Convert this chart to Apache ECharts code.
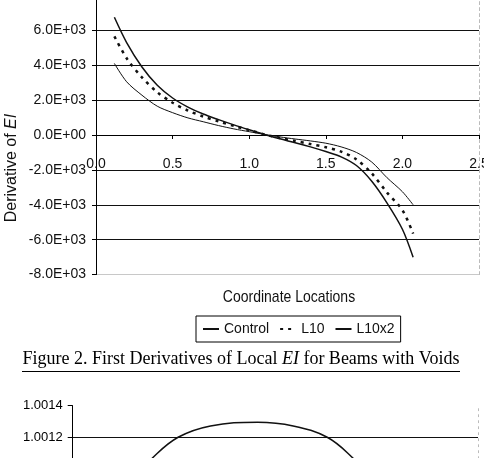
<!DOCTYPE html>
<html>
<head>
<meta charset="UTF-8">
<title>First Derivatives of Local EI</title>
<script src="https://cdn.jsdelivr.net/npm/echarts@6/dist/echarts.min.js"></script>
<style>
html, body { margin: 0; padding: 0; background: #fff; }
#chart { width: 484px; height: 458px; }
</style>
</head>
<body>
<div id="chart"></div>
<script>
// top chart - coordinate locations and first derivative of EI for each beam
var xTop = [0.12, 0.2, 0.3, 0.4, 0.5, 0.6, 0.7, 0.8, 0.9, 1.0, 1.1,
            1.2, 1.3, 1.4, 1.5, 1.6, 1.7, 1.8, 1.9, 2.0, 2.07];
var control = [4100, 3050, 2280, 1650, 1280, 980, 760, 540, 350, 190, 30,
               -110, -230, -340, -470, -680, -1000, -1550, -2450, -3250, -4000];
var l10 = [5650, 4400, 3300, 2450, 1850, 1400, 1060, 780, 520, 280, 30,
           -170, -340, -520, -700, -950, -1400, -2200, -3300, -4300, -5650];
var l10x2 = [6750, 5300, 3900, 2850, 2120, 1600, 1200, 880, 580, 300, 30,
             -220, -440, -680, -950, -1250, -1750, -2650, -3900, -5400, -7000];
var yTicksTop = [-8000, 8000, 2000];   // min, max, step
var xTicksTop = [0, 2.5, 0.5];

// bottom chart (only the top of it is on the page)
var xBottom = [0.42, 0.49, 0.65, 0.85, 1.14, 1.36, 1.57, 1.73, 1.8];
var ratioBottom = [1.00098, 1.001067, 1.0012, 1.001272, 1.001295, 1.001272, 1.0012, 1.001067, 1.00098];
var yTicksBottom = [1.0, 1.0014, 0.0002];

var FONT = 'Liberation Sans';
var SERIF = 'Liberation Serif';
var INK = '#111';

function pairs(xs, ys) {
    return xs.map(function (x, i) { return [x, ys[i]]; });
}

// 6000 -> "6.0E+03"
function sci(v) {
    var s = v.toExponential(1).toUpperCase();
    return s.replace(/E([+-])(\d)$/, 'E$10$2');
}

var myChart = echarts.init(document.getElementById('chart'), null, { renderer: 'canvas' });

var option = {
    animation: false,
    backgroundColor: '#fff',
    textStyle: { fontFamily: FONT, color: INK },
    grid: [
        { left: 96, top: -4.6, width: 383, height: 279.2, outerBoundsMode: 'none' },
        { left: 72.7, top: 405.7, width: 405.3, height: 221, outerBoundsMode: 'none' }
    ],
    legend: {
        left: 196, top: 316,
        orient: 'horizontal',
        borderColor: '#000', borderWidth: 1,
        padding: [6, 6, 6, 6],
        itemWidth: 16, itemHeight: 12, itemGap: 10,
        itemStyle: { color: 'rgba(0,0,0,0)', borderWidth: 0, opacity: 0 },
        textStyle: { fontFamily: FONT, fontSize: 14, color: INK },
        data: ['Control', 'L10', 'L10x2']
    },
    xAxis: [
        {
            // x axis sits on the zero line of the y axis
            gridIndex: 0, type: 'value', position: 'bottom', offset: -139.6,
            min: xTicksTop[0], max: xTicksTop[1], interval: xTicksTop[2],
            axisLine: { onZero: false, lineStyle: { color: '#000', width: 1 } },
            axisTick: { show: true, length: 4, lineStyle: { color: '#000' } },
            axisLabel: {
                margin: 22, fontFamily: FONT, fontSize: 14, color: INK,
                formatter: function (v) { return v.toFixed(1); }
            },
            splitLine: { show: false }
        },
        {
            gridIndex: 1, type: 'value', min: 0, max: 2.5,
            show: false
        }
    ],
    yAxis: [
        {
            gridIndex: 0, type: 'value',
            min: yTicksTop[0], max: yTicksTop[1], interval: yTicksTop[2],
            axisLine: { show: true, onZero: false, lineStyle: { color: '#000', width: 1 } },
            axisTick: { show: true, length: 4, lineStyle: { color: '#000' } },
            axisLabel: { margin: 10, fontFamily: FONT, fontSize: 14, color: INK, formatter: sci },
            splitLine: {
                show: true,
                lineStyle: { color: ['#c8c8c8', '#111', '#111', '#111', '#111', '#111', '#111', '#111', '#111'], width: 1 }
            }
        },
        {
            // faint right edge of the plot area
            gridIndex: 0, type: 'value', position: 'right',
            min: yTicksTop[0], max: yTicksTop[1], interval: yTicksTop[2],
            axisLine: { show: true, onZero: false, lineStyle: { color: '#bbb', type: [3, 3] } },
            axisTick: { show: false }, axisLabel: { show: false }, splitLine: { show: false }
        },
        {
            gridIndex: 1, type: 'value',
            min: yTicksBottom[0], max: yTicksBottom[1], interval: yTicksBottom[2],
            axisLine: { show: true, onZero: false, lineStyle: { color: '#000', width: 1 } },
            axisTick: { show: true, length: 5, lineStyle: { color: '#000' } },
            axisLabel: {
                margin: 10, fontFamily: FONT, fontSize: 13, color: '#000',
                formatter: function (v) { return v.toFixed(4); }
            },
            splitLine: { show: true, showMaxLine: false, lineStyle: { color: '#111', width: 1 } }
        },
        {
            gridIndex: 1, type: 'value', position: 'right',
            min: yTicksBottom[0], max: yTicksBottom[1], interval: yTicksBottom[2],
            axisLine: { show: true, onZero: false, lineStyle: { color: '#bbb', type: [2, 4] } },
            axisTick: { show: false }, axisLabel: { show: false }, splitLine: { show: false }
        }
    ],
    series: [
        {
            name: 'Control', type: 'line', xAxisIndex: 0, yAxisIndex: 0,
            data: pairs(xTop, control), smooth: 0.3, symbol: 'none',
            lineStyle: { color: '#111', width: 1 }, itemStyle: { color: '#111' }
        },
        {
            name: 'L10', type: 'line', xAxisIndex: 0, yAxisIndex: 0,
            data: pairs(xTop, l10), smooth: 0.3, symbol: 'none',
            lineStyle: { color: '#111', width: 2.5, type: [3, 5] }, itemStyle: { color: '#111' }
        },
        {
            name: 'L10x2', type: 'line', xAxisIndex: 0, yAxisIndex: 0,
            data: pairs(xTop, l10x2), smooth: 0.3, symbol: 'none',
            lineStyle: { color: '#111', width: 1.5 }, itemStyle: { color: '#111' }
        },
        {
            name: 'ratio', type: 'line', xAxisIndex: 1, yAxisIndex: 2,
            data: pairs(xBottom, ratioBottom), smooth: 0.4, symbol: 'none',
            lineStyle: { color: '#111', width: 1.5 }
        }
    ],
    graphic: [
        {
            type: 'text', x: 12, y: 168, rotation: Math.PI / 2,
            style: {
                text: 'Derivative of {i|EI}',
                rich: { i: { fontStyle: 'italic', fontFamily: FONT, fontSize: 16, fill: INK } },
                fontFamily: FONT, fontSize: 16, fill: INK,
                align: 'center', verticalAlign: 'middle'
            }
        },
        {
            type: 'text', x: 289, y: 297, scaleY: 1.2,
            style: {
                text: 'Coordinate Locations',
                fontFamily: FONT, fontSize: 14, fill: INK,
                align: 'center', verticalAlign: 'middle'
            }
        },
        {
            type: 'text', x: 241, y: 359,
            style: {
                text: 'Figure 2. First Derivatives of Local {i|EI} for Beams with Voids',
                rich: { i: { fontStyle: 'italic', fontFamily: SERIF, fontSize: 18, fill: '#000' } },
                fontFamily: SERIF, fontSize: 18, fill: '#000',
                align: 'center', verticalAlign: 'middle'
            }
        },
        {
            type: 'line', shape: { x1: 22, y1: 371.5, x2: 460, y2: 371.5 },
            style: { stroke: '#000', lineWidth: 1 }
        }
    ]
};

myChart.setOption(option);
</script>
</body>
</html>
